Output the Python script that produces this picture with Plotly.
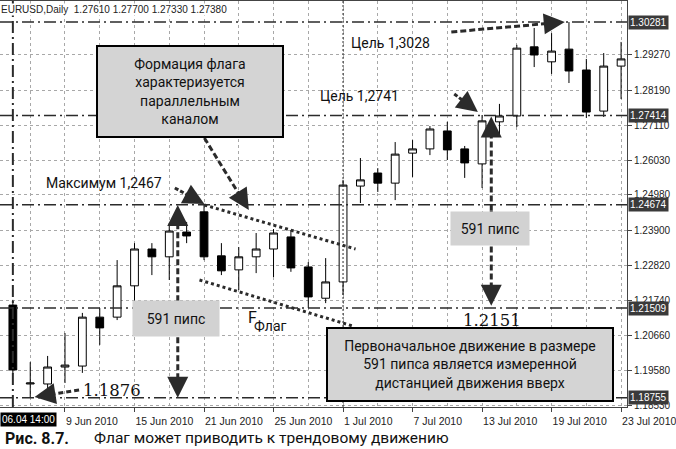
import math
import plotly.graph_objects as go

# EURUSD daily bars, 4 Jun - 23 Jul 2010
dates = ['06-04', '06-07', '06-08', '06-09', '06-10', '06-11', '06-14', '06-15', '06-16',
         '06-17', '06-18', '06-21', '06-22', '06-23', '06-24', '06-25', '06-28', '06-29',
         '06-30', '07-01', '07-02', '07-05', '07-06', '07-07', '07-08', '07-09', '07-12',
         '07-13', '07-14', '07-15', '07-16', '07-19', '07-20', '07-21', '07-22', '07-23']
opens = [1.2160, 1.1918, 1.1918, 1.1970, 1.1973, 1.2123, 1.2123, 1.2219, 1.2332,
         1.2308, 1.2384, 1.2446, 1.2311, 1.2268, 1.2308, 1.2332, 1.2369, 1.2277,
         1.2181, 1.2231, 1.2525, 1.2565, 1.2534, 1.2626, 1.2639, 1.2694, 1.2639,
         1.2593, 1.2722, 1.2740, 1.2952, 1.2906, 1.2945, 1.2881, 1.2755, 1.2893]
highs = [1.2176, 1.1985, 1.2004, 1.2074, 1.2136, 1.2151, 1.2298, 1.2350, 1.2350,
         1.2412, 1.2415, 1.2467, 1.2350, 1.2338, 1.2381, 1.2393, 1.2390, 1.2292,
         1.2304, 1.2544, 1.2611, 1.2580, 1.2660, 1.2666, 1.2709, 1.2722, 1.2648,
         1.2743, 1.2777, 1.2958, 1.3010, 1.2994, 1.3028, 1.2915, 1.2933, 1.2967]
lows = [1.1949, 1.1876, 1.1893, 1.1921, 1.1952, 1.2038, 1.2114, 1.2170, 1.2252,
        1.2237, 1.2350, 1.2298, 1.2252, 1.2206, 1.2258, 1.2246, 1.2262, 1.2151,
        1.2166, 1.2191, 1.2473, 1.2507, 1.2482, 1.2553, 1.2620, 1.2605, 1.2550,
        1.2519, 1.2682, 1.2706, 1.2890, 1.2869, 1.2841, 1.2734, 1.2737, 1.2792]
closes = [1.1961, 1.1921, 1.1970, 1.1976, 1.2123, 1.2090, 1.2219, 1.2332, 1.2308,
          1.2387, 1.2372, 1.2308, 1.2265, 1.2308, 1.2332, 1.2381, 1.2274, 1.2185,
          1.2231, 1.2528, 1.2544, 1.2534, 1.2623, 1.2639, 1.2700, 1.2636, 1.2596,
          1.2725, 1.2740, 1.2948, 1.2927, 1.2939, 1.2878, 1.2752, 1.2893, 1.2915]
idx = list(range(1, len(dates) + 1))

x_tick_pos = [4, 8, 12, 16, 20, 24, 28, 32, 36]
x_tick_text = ['9 Jun 2010', '15 Jun 2010', '21 Jun 2010', '25 Jun 2010', '1 Jul 2010',
               '7 Jul 2010', '13 Jul 2010', '19 Jul 2010', '23 Jul 2010']
y_ticks = [1.29270, 1.28190, 1.27110, 1.26030, 1.24980, 1.23900, 1.22820, 1.21740,
           1.20660, 1.19580, 1.18530]
levels = [1.30281, 1.27414, 1.24674, 1.21509, 1.18755]

XR = [0.26, 36.34]
YR = [1.18474, 1.30926]
W, H = 676, 449
M = dict(l=0, r=41, t=1, b=42)
XS = (W - M['l'] - M['r']) / (XR[1] - XR[0])
YS = (H - M['t'] - M['b']) / (YR[1] - YR[0])

DARK = '#2b2b2b'
GRID = '#a8a8a8'
TXT = dict(family='Roboto', size=14, color='#111')

fig = go.Figure()
fig.add_trace(go.Candlestick(
    x=idx, open=opens, high=highs, low=lows, close=closes,
    increasing=dict(line=dict(color='black', width=1), fillcolor='white'),
    decreasing=dict(line=dict(color='black', width=1), fillcolor='black'),
    whiskerwidth=0, showlegend=False, hoverinfo='skip'))


def arrow(x0, y0, x1, y1, dash, width=3, head=True):
    dx = (x1 - x0) * XS
    dy = (y1 - y0) * YS
    L = math.hypot(dx, dy)
    back = 10 if head else 0
    fx = x1 - (x1 - x0) * back / L
    fy = y1 - (y1 - y0) * back / L
    fig.add_shape(type='line', x0=x0, y0=y0, x1=fx, y1=fy,
                  line=dict(color=DARK, width=width, dash=dash))
    if head:
        bx = x1 - (x1 - x0) * 12 / L
        by = y1 - (y1 - y0) * 12 / L
        fig.add_annotation(x=x1, y=y1, ax=bx, ay=by, axref='x', ayref='y', text='',
                           showarrow=True, arrowhead=2, arrowsize=1.4, arrowwidth=3,
                           arrowcolor=DARK, standoff=0)


# level lines and verticals
for lv in levels:
    fig.add_shape(type='line', xref='paper', x0=0, x1=1, y0=lv, y1=lv,
                  line=dict(color=DARK, width=1.5, dash='12px,4px,2px,4px'))
fig.add_shape(type='line', yref='paper', x0=1, x1=1, y0=0, y1=1,
              line=dict(color=DARK, width=2, dash='12px,4px,2px,4px'))
fig.add_shape(type='line', yref='paper', x0=20, x1=20, y0=0, y1=1,
              line=dict(color=DARK, width=1, dash='2px,2px'))

# flag channel
arrow(12.02, 1.2467, 20.72, 1.2332, '3px,3px', head=False)
arrow(11.74, 1.2237, 20.55, 1.2096, '3px,3px', head=False)

# arrows
arrow(12.02, 1.26725, 14.58, 1.24516, '6px,3px')
arrow(10.32, 1.25191, 12.02, 1.2470, '4px,2px')
arrow(10.49, 1.2172, 10.49, 1.2467, '6px,3px')
arrow(10.49, 1.2172, 10.49, 1.1876, '6px,3px')
arrow(28.53, 1.2450, 28.53, 1.2738, '6px,3px')
arrow(28.53, 1.2450, 28.53, 1.2158, '6px,3px')
arrow(4.81, 1.18996, 2.25, 1.18781, '5px,3px')
arrow(26.40, 1.28074, 27.76, 1.27522, '4px,2px')
arrow(26.23, 1.29976, 32.76, 1.30282, '6px,3px')

# texts
fig.add_annotation(x=2.82, y=1.25344, text='Максимум 1,2467', xanchor='left',
                   showarrow=False, font=TXT)
fig.add_annotation(x=18.56, y=1.28013, text='Цель 1,2741', xanchor='left',
                   showarrow=False, font=TXT)
fig.add_annotation(x=20.32, y=1.29638, text='Цель 1,3028', xanchor='left',
                   showarrow=False, font=TXT)
fig.add_annotation(x=14.81, y=1.21204, text='F', showarrow=False,
                   font=dict(family='Roboto', size=16, color='#111'))
fig.add_annotation(x=15.83, y=1.20959, text='Флаг', showarrow=False, font=TXT)
fig.add_annotation(x=4.92, y=1.18965, text='1.1876', xanchor='left', showarrow=False,
                   font=dict(family='DejaVu Serif', size=16.5, color='#111'))
fig.add_annotation(x=28.56, y=1.21112, text='1.2151', showarrow=False,
                   font=dict(family='DejaVu Serif', size=16.5, color='#111'))

# boxes
fig.add_annotation(x=11.17, y=1.28151, showarrow=False, width=184, height=89,
                   text='Формация флага<br>характеризуется<br>параллельным<br>каналом',
                   bgcolor='#d4d4d4', bordercolor='black', borderwidth=2, borderpad=0,
                   font=TXT)
fig.add_annotation(x=10.375, y=1.21189, showarrow=False, width=86, height=35,
                   text='591 пипс', bgcolor='#d2d2d2', borderpad=0, font=TXT)
fig.add_annotation(x=28.44, y=1.23949, showarrow=False, width=78, height=33,
                   text='591 пипс', bgcolor='#d2d2d2', borderpad=0, font=TXT)
fig.add_annotation(x=27.31, y=1.19778, showarrow=False, width=284, height=71,
                   text='Первоначальное движение в размере<br>591 пипса является измеренной'
                        '<br>дистанцией движения вверх',
                   bgcolor='#d4d4d4', bordercolor='black', borderwidth=2, borderpad=0,
                   font=TXT)

# highlighted price labels on the right axis
for lv in levels:
    fig.add_annotation(xref='paper', x=1, xanchor='left', xshift=1, y=lv,
                       text=f'{lv:.5f}', showarrow=False, bgcolor='#3a3a3a', borderpad=1,
                       font=dict(family='Liberation Sans', size=10, color='white'))

# header, time label, caption
fig.add_annotation(xref='paper', yref='paper', x=0, y=0.978, xanchor='left',
                   yanchor='middle',
                   text='EURUSD,Daily  1.27610 1.27700 1.27330 1.27380', showarrow=False,
                   bgcolor='white', borderpad=0,
                   font=dict(family='Liberation Sans', size=10, color='#222'))
fig.add_annotation(xref='paper', yref='paper', x=0, y=-0.031, xanchor='left',
                   yanchor='middle',
                   text='06.04 14:00', showarrow=False, bgcolor='black', borderpad=1,
                   font=dict(family='Liberation Sans', size=10, color='white'))
fig.add_annotation(xref='paper', yref='paper', x=0.0047, y=-0.0764, xanchor='left',
                   yanchor='middle',
                   text='<b>Рис. 8.7.</b>', showarrow=False,
                   font=dict(family='Roboto', size=16, color='#111'))
fig.add_annotation(xref='paper', yref='paper', x=0.147, y=-0.0764, xanchor='left',
                   yanchor='middle',
                   text='Флаг может приводить к трендовому движению', showarrow=False,
                   font=dict(family='Roboto', size=15.5, color='#111'))

fig.update_layout(
    width=W, height=H, margin=M, autosize=False,
    paper_bgcolor='white', plot_bgcolor='white', boxgap=0.36,
    font=dict(family='Liberation Sans', size=10.5, color='#222'),
    xaxis=dict(range=XR, rangeslider=dict(visible=False), zeroline=False,
               tickvals=x_tick_pos, ticktext=x_tick_text, ticklabelposition='outside right',
               ticklabeloverflow='allow', ticklabelstandoff=4,
               ticks='outside', ticklen=4, tickcolor='#444',
               showgrid=True, gridcolor=GRID, griddash='3px,3px', gridwidth=1,
               minor=dict(tickvals=[p - 2 for p in x_tick_pos], showgrid=True,
                          gridcolor=GRID, griddash='3px,3px', ticks=''),
               showline=True, linecolor='#444', linewidth=1, mirror=True),
    yaxis=dict(range=YR, side='right', zeroline=False,
               tickvals=y_ticks, ticktext=[f'{v:.5f}' for v in y_ticks],
               tickfont=dict(size=10), ticklabeloverflow='allow',
               ticks='outside', ticklen=4, tickcolor='#444',
               showgrid=True, gridcolor=GRID, griddash='3px,3px', gridwidth=1,
               showline=True, linecolor='#444', linewidth=1),
)

# page margin would shift the chart by 8px
fig.write_html('out.html', config={'displayModeBar': False},
               post_script="document.body.style.margin='0';")
